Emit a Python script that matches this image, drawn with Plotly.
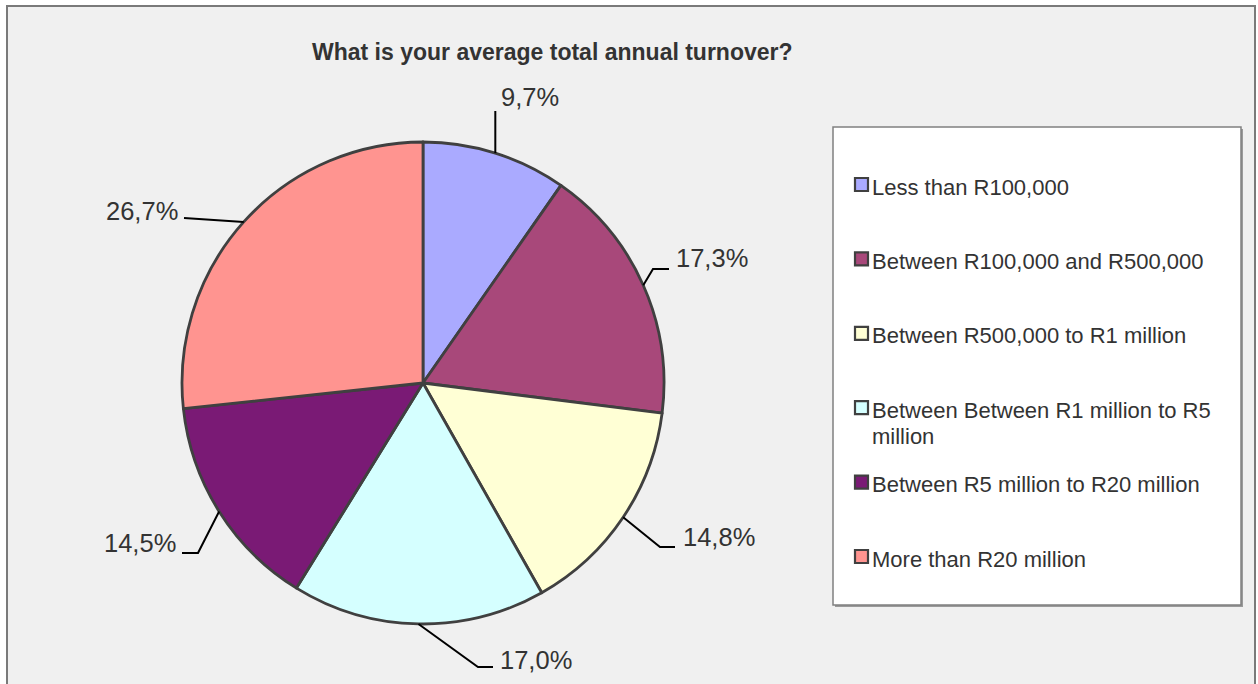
import math
import textwrap
import plotly.graph_objects as go

# ---------------- data ----------------
categories = [
    "Less than R100,000",
    "Between R100,000 and R500,000",
    "Between R500,000 to R1 million",
    "Between Between R1 million to R5 million",
    "Between R5 million to R20 million",
    "More than R20 million",
]
shares = [9.7, 17.3, 14.8, 17.0, 14.5, 26.7]
title_text = "What is your average total annual turnover?"

# ---------------- style / layout ----------------
colors = ["#AAAAFF", "#A8487A", "#FFFFD5", "#D5FFFF", "#7A1A75", "#FF9490"]
W, H = 1258, 684
FONT = "Liberation Sans, Arial, sans-serif"
TXT = "#333333"
EDGE = "#404040"
CX, CY, R = 423, 383, 241

# label text positions (px) and anchor side
label_pos = [
    (499, 97, "left"),
    (674, 258, "left"),
    (681, 537, "left"),
    (498, 660, "left"),
    (178, 543, "right"),
    (180, 211, "right"),
]
# leader paths after leaving the pie: list of points (px)
leader_pts = [
    [(None, 111)],
    [(653, 269), (669, 269)],
    [(660, 547), (675, 547)],
    [(478, 667), (493, 667)],
    [(198, 553), (182, 553)],
    [(184, 218)],
]


def P(x, y):
    return x / W, 1 - y / H


fig = go.Figure()

x0, y0 = P(CX - R, CY + R)
x1, y1 = P(CX + R, CY - R)
fig.add_trace(go.Pie(
    labels=categories,
    values=shares,
    sort=False,
    direction="clockwise",
    rotation=0,
    textinfo="none",
    hoverinfo="label+percent",
    marker=dict(colors=colors, line=dict(color=EDGE, width=2.8)),
    domain=dict(x=[x0, x1], y=[y0, y1]),
    showlegend=False,
))

shapes = []
annotations = []

# outer chart frame
fx0, fy0 = P(7, 6)
fx1, fy1 = P(1255, 700)
shapes.append(dict(type="rect", xref="paper", yref="paper", x0=fx0, y0=fy1, x1=fx1, y1=fy0,
                   fillcolor="#F0F0F0", line=dict(color="#7A7A7A", width=2), layer="below"))

# title
tx, ty = P(552, 52)
annotations.append(dict(text="<b>%s</b>" % title_text, x=tx, y=ty, xref="paper", yref="paper",
                        showarrow=False, xanchor="center", yanchor="middle",
                        font=dict(family=FONT, size=23, color=TXT)))

# data labels with leader lines
total = sum(shares)
cum = 0.0
for i, v in enumerate(shares):
    mid = (cum + v / 2) / total * 2 * math.pi
    cum += v
    sx = CX + R * math.sin(mid)
    sy = CY - R * math.cos(mid)
    pts = [(sx, sy)]
    for (px_, py_) in leader_pts[i]:
        pts.append((sx if px_ is None else px_, py_))
    path = ""
    for k, (a, b) in enumerate(pts):
        qx, qy = P(a, b)
        path += ("M" if k == 0 else " L") + " %f,%f" % (qx, qy)
    shapes.append(dict(type="path", xref="paper", yref="paper", path=path,
                       line=dict(color="#000000", width=2)))
    lx, ly, side = label_pos[i]
    ax_, ay_ = P(lx, ly)
    label = ("%.1f" % v).replace(".", ",") + "%"
    annotations.append(dict(text=label, x=ax_, y=ay_, xref="paper", yref="paper",
                            showarrow=False, xanchor=side, yanchor="middle",
                            font=dict(family=FONT, size=25.5, color=TXT)))

# legend box
lx0, ly0 = P(833, 127)
lx1, ly1 = P(1241, 605)
sx0, sy0 = P(835, 129)
sx1, sy1 = P(1243, 607)
shapes.append(dict(type="rect", xref="paper", yref="paper", x0=sx0, y0=sy1, x1=sx1, y1=sy0,
                   fillcolor="#9A9A9A", line=dict(width=0)))
shapes.append(dict(type="rect", xref="paper", yref="paper", x0=lx0, y0=ly1, x1=lx1, y1=ly0,
                   fillcolor="#FFFFFF", line=dict(color="#808080", width=1.5)))

LEG_Y0, LEG_STEP, LINE_H = 187, 74.4, 26
for i, (name, col) in enumerate(zip(categories, colors)):
    yc = LEG_Y0 + i * LEG_STEP
    mx0, my0 = P(855, yc - 9)
    mx1, my1 = P(868, yc + 4)
    shapes.append(dict(type="rect", xref="paper", yref="paper", x0=mx0, y0=my1, x1=mx1, y1=my0,
                       fillcolor=col, line=dict(color=EDGE, width=2.2)))
    for j, line in enumerate(textwrap.wrap(name, 33)):
        ax_, ay_ = P(870, yc + j * LINE_H)
        annotations.append(dict(text=line, x=ax_, y=ay_, xref="paper", yref="paper",
                                showarrow=False, xanchor="left", yanchor="middle",
                                font=dict(family=FONT, size=22, color=TXT)))

fig.update_layout(
    width=W, height=H,
    margin=dict(l=0, r=0, t=0, b=0),
    paper_bgcolor="#FFFFFF",
    plot_bgcolor="#FFFFFF",
    shapes=shapes,
    annotations=annotations,
    showlegend=False,
)

fig.write_html("out.html")
